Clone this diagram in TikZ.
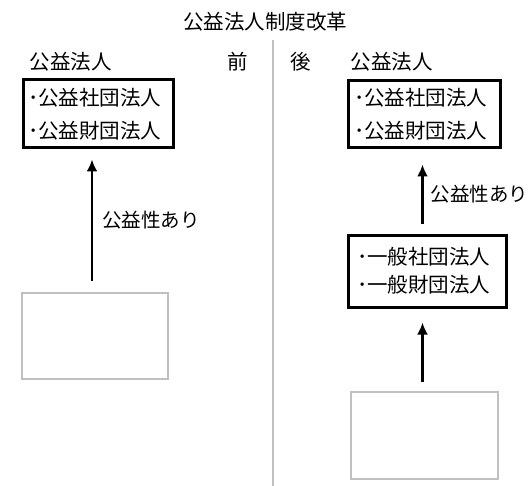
\documentclass[tikz,border=0pt]{standalone}
\usepackage{fontspec}
\setmainfont{Noto Sans CJK JP}
\usepackage{tikz}
\usetikzlibrary{positioning, arrows.meta}
\definecolor{boxgray}{RGB}{192,192,192}

\begin{document}
\begin{tikzpicture}[
x=1pt, y=-1pt,
mybox/.style={rectangle,
  draw=black,
  line width=3pt,
  align=left,
  text width=140pt,
  inner ysep=0pt,
  font=\fontsize{20.5}{33}\selectfont
},
mygray/.style={rectangle,
  draw=boxgray,
  line width=2.75pt
},
mytext/.style={inner sep=0pt,
  font=\fontsize{20.5}{24}\selectfont
},
mynote/.style={inner sep=0pt,
  font=\fontsize{19.5}{24}\selectfont
},
myarrow/.style={->,
  line width=2.5pt,
  black
},
>={Latex[length=12pt,width=11pt]}
]
\useasboundingbox (0,0) rectangle (529,486);

\node[mytext] (title) at (265,22)
    {公益法人制度改革};
\node[mytext] (pre) at (238,62)
    {前};
\node[mytext] (post) at (301,62)
    {後};
\coordinate (divtop) at (273,40);
\coordinate (divbot) at (273,486);
\draw[boxgray, line width=2.5pt] (divtop) -- (divbot);

% before
\node[mybox, inner xsep=2pt, minimum width=150pt, minimum height=68pt] (lpub) at (98,114)
    {･公益社団法人\\･公益財団法人};
\node[mytext, anchor=west] (lpubname) at ([xshift=8pt,yshift=17pt]lpub.north west)
    {公益法人};
\node[mygray, minimum width=146pt, minimum height=86pt] (lgray) at (95,336)
    {};

\draw[myarrow] ([xshift=-3pt,yshift=11pt]lgray.north) -- ([xshift=-3pt,yshift=-10pt]lgray.north |- lpub.south)
    node[mynote, midway, right=9pt] (lnote) {公益性あり};

% after
\node[mybox, inner xsep=6pt, minimum width=152pt, minimum height=67pt] (rpub) at (424,114.5)
    {･公益社団法人\\･公益財団法人};
\node[mytext, anchor=west] (rpubname) at ([xshift=4pt,yshift=18pt]rpub.north west)
    {公益法人};
\node[mybox, inner xsep=9pt, minimum width=158pt, minimum height=72pt,
      font=\fontsize{20.5}{28}\selectfont] (gen) at (427,271)
    {･一般社団法人\\･一般財団法人};
\node[mygray, minimum width=147pt, minimum height=87pt] (rgray) at (424.5,435.5)
    {};

\draw[myarrow] ([xshift=-2pt,yshift=10pt]rgray.north |- gen.north) -- ([xshift=-2pt,yshift=-15pt]rgray.north |- rpub.south)
    node[mynote, midway, right=7pt] (rnote) {公益性あり};
\draw[myarrow] ([xshift=-2pt,yshift=9pt]rgray.north) -- ([xshift=-2pt,yshift=-14pt]rgray.north |- gen.south);
\end{tikzpicture}
\end{document}
